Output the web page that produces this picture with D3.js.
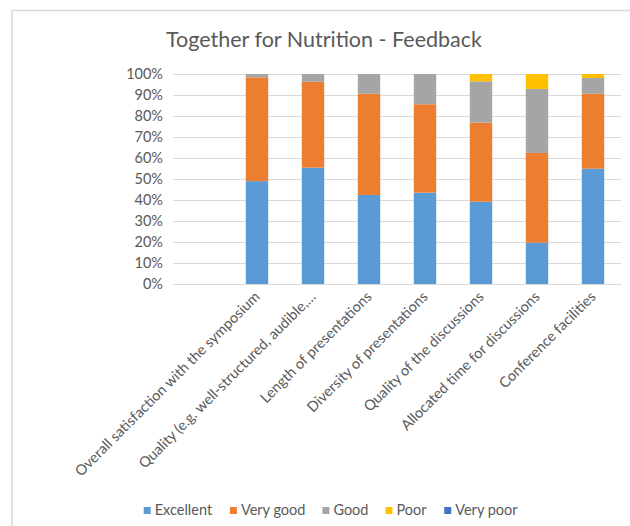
<!DOCTYPE html>
<html>
<head>
<meta charset="utf-8">
<script src="https://cdn.jsdelivr.net/npm/d3@7"></script>
<style>
  html, body { margin: 0; padding: 0; background: #fff; }
  svg { display: block; font-family: Lato, "Open Sans", sans-serif; }
</style>
</head>
<body>
<svg id="chart" width="630" height="526"></svg>
<script>
// categories (first one is a blank row in the source sheet)
var categories = ["", "Overall satisfaction with the symposium", "Quality (e.g. well-structured, audible,\u2026",
  "Length of presentations", "Diversity of presentations", "Quality of the discussions",
  "Allocated time for discussions", "Conference facilities"];
var seriesNames = ["Excellent", "Very good", "Good", "Poor", "Very poor"];
var excellent = [0, 49.0, 55.4, 42.4, 43.5, 39.2, 19.7, 54.9];
var veryGood  = [0, 49.4, 40.9, 48.2, 42.1, 37.6, 42.7, 35.7];
var good      = [0, 1.6, 3.7, 9.4, 14.4, 19.7, 30.5, 7.5];
var poor      = [0, 0, 0, 0, 0, 3.5, 7.1, 1.9];
var veryPoor  = [0, 0, 0, 0, 0, 0, 0, 0];
var yTicks = [0, 0.1, 0.2, 0.3, 0.4, 0.5, 0.6, 0.7, 0.8, 0.9, 1];
var colors = ["#5B9BD5", "#ED7D31", "#A5A5A5", "#FFC000", "#4472C4"];

var svg = d3.select("#chart"),
    plot = { left: 173, right: 621, top: 74, bottom: 284 },
    textColor = "#595959",
    gridColor = "#d9d9d9";

// chart frame
svg.append("rect")
  .attr("x", 12).attr("y", 10.5)
  .attr("width", 640).attr("height", 540)
  .attr("fill", "#fff")
  .attr("stroke", gridColor).attr("stroke-width", 1.5);

// title
svg.append("text")
  .attr("x", 324).attr("y", 47)
  .attr("text-anchor", "middle")
  .attr("fill", textColor)
  .style("font-size", "21.5px")
  .text("Together for Nutrition - Feedback");

var rows = categories.map(function(c, i) {
  return { cat: c, "Excellent": excellent[i], "Very good": veryGood[i], "Good": good[i],
           "Poor": poor[i], "Very poor": veryPoor[i] };
});

var stack = d3.stack()
  .keys(seriesNames)
  .offset(function(series, order) {
    // 100% stacking, but leave the blank row empty
    d3.stackOffsetNone(series, order);
    for (var j = 0; j < series[0].length; j++) {
      var total = series[series.length - 1][j][1];
      for (var k = 0; k < series.length; k++) {
        if (total > 0) {
          series[k][j][0] /= total;
          series[k][j][1] /= total;
        }
      }
    }
  });
var series = stack(rows);

var x = d3.scaleBand()
  .domain(categories.map(function(c, i) { return i; }))
  .range([plot.left, plot.right])
  .paddingInner(0.6)
  .paddingOuter(0.3);

var y = d3.scaleLinear().domain([0, 1]).range([plot.bottom, plot.top]);

// gridlines
var yAxis = d3.axisLeft(y)
  .tickValues(yTicks)
  .tickFormat(d3.format(".0%"))
  .tickSize(-(plot.right - plot.left))
  .tickPadding(10);

var gy = svg.append("g")
  .attr("transform", "translate(" + plot.left + ",0)")
  .call(yAxis);
gy.select(".domain").remove();
gy.selectAll(".tick line").attr("stroke", gridColor).attr("stroke-width", 1);
gy.selectAll(".tick text")
  .attr("fill", textColor)
  .style("font-size", "14.5px")
  .style("font-family", "Lato, sans-serif");

// bars
svg.append("g").selectAll("g")
  .data(series)
  .enter().append("g")
  .attr("fill", function(d, i) { return colors[i]; })
  .selectAll("rect")
  .data(function(d) { return d; })
  .enter().append("rect")
  .attr("x", function(d, i) { return x(i); })
  .attr("width", x.bandwidth())
  .attr("y", function(d) { return y(d[1]); })
  .attr("height", function(d) { return y(d[0]) - y(d[1]); });

// category axis
var xAxis = d3.axisBottom(x).tickSize(0).tickFormat(function(i) { return categories[i]; });
var gx = svg.append("g")
  .attr("transform", "translate(0," + plot.bottom + ")")
  .call(xAxis);
gx.select(".domain").attr("stroke", gridColor);
gx.selectAll(".tick text")
  .attr("fill", textColor)
  .style("font-size", "14.5px")
  .style("font-family", "Lato, sans-serif")
  .attr("text-anchor", "end")
  .attr("y", 0)
  .attr("dy", "0.35em")
  .attr("transform", "translate(0,10) rotate(-45)");

// legend
var legend = svg.append("g").style("font-size", "14.5px").attr("fill", textColor);
var items = legend.selectAll("g").data(seriesNames).enter().append("g");
items.append("rect").attr("width", 7).attr("height", 7).attr("y", -7)
  .attr("fill", function(d, i) { return colors[i]; });
items.append("text").attr("x", 11).attr("y", 0).attr("dy", "0.1em").text(function(d) { return d; });
var cursor = 0;
items.each(function() {
  var w = this.getBBox().width;
  d3.select(this).attr("transform", "translate(" + cursor + ",0)");
  cursor += w + 17;
});
var total = cursor - 17;
legend.attr("transform", "translate(" + (331 - total / 2) + ",514)");
</script>
</body>
</html>
